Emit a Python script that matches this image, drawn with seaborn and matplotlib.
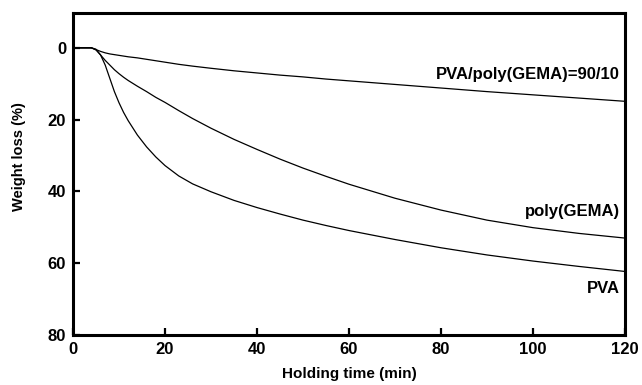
import numpy as np
import pandas as pd
import seaborn as sns
import matplotlib
matplotlib.use("Agg")
import matplotlib.pyplot as plt

# ---- data ----
time_min = [0, 4, 5, 6, 7, 8, 9, 10, 11, 12, 14, 16, 18, 20, 23, 26, 30, 35, 40, 45, 50, 55, 60, 70, 80, 90, 100, 110, 120]
pva = [0, 0, 0.4, 2.0, 4.8, 8.5, 12.2, 15.3, 18.0, 20.3, 24.3, 27.6, 30.4, 32.8, 35.7, 37.9, 40.1, 42.5, 44.5,
       46.3, 48.0, 49.5, 50.9, 53.4, 55.7, 57.7, 59.4, 60.9, 62.3]
poly_gema = [0, 0, 0.6, 2.0, 3.5, 4.8, 6.1, 7.2, 8.2, 9.1, 10.7, 12.2, 13.8, 15.2, 17.5, 19.7, 22.4, 25.5, 28.3,
             31.0, 33.5, 35.8, 38.0, 41.9, 45.2, 48.0, 50.1, 51.7, 53.0]
blend_90_10 = [0, 0, 0.5, 1.0, 1.4, 1.7, 1.9, 2.1, 2.3, 2.5, 2.8, 3.2, 3.6, 4.0, 4.6, 5.1, 5.7, 6.4, 7.0,
               7.6, 8.1, 8.7, 9.2, 10.2, 11.2, 12.2, 13.1, 14.0, 14.9]
series_names = ["PVA", "poly(GEMA)", "PVA/poly(GEMA)=90/10"]
x_ticks = [0, 20, 40, 60, 80, 100, 120]
y_ticks = [0, 20, 40, 60, 80]

n = len(time_min)
df = pd.DataFrame({
    "time": time_min * 3,
    "loss": pva + poly_gema + blend_90_10,
    "series": [series_names[0]] * n + [series_names[1]] * n + [series_names[2]] * n,
})

sns.set_style("ticks")
plt.rcParams["font.family"] = ["Liberation Sans", "DejaVu Sans"]
plt.rcParams["font.weight"] = "bold"
for key in ["text.color", "axes.labelcolor", "xtick.color", "ytick.color", "axes.edgecolor"]:
    plt.rcParams[key] = "black"

fig = plt.figure(figsize=(6.42, 3.85), dpi=100)
ax = fig.add_axes([73 / 642, 1 - 335 / 385, (625 - 73) / 642, (335 - 13) / 385])

sns.lineplot(data=df, x="time", y="loss", hue="series", units="series", estimator=None,
             palette=["black"] * 3, linewidth=0.9, legend=False, ax=ax)

ax.set_xlim(0, 120)
ax.set_ylim(80, -9.7)
ax.set_xticks(x_ticks)
ax.set_yticks(y_ticks)
ax.tick_params(direction="in", length=5, width=1.6, labelsize=12, pad=5)
for lab in ax.get_xticklabels() + ax.get_yticklabels():
    lab.set_fontweight("bold")
for sp in ax.spines.values():
    sp.set_linewidth(2.2)
    sp.set_visible(True)

ax.set_xlabel("Holding time (min)", fontsize=11, fontweight="bold", labelpad=7)
ax.set_ylabel("Weight loss (%)", fontsize=10.5, fontweight="bold")
ax.yaxis.set_label_coords(-0.085, 0.553)

ax.text(118.9, 7.5, series_names[2], ha="right", va="center", fontsize=12, fontweight="bold")
ax.text(118.9, 45.7, series_names[1], ha="right", va="center", fontsize=12, fontweight="bold")
ax.text(118.9, 67.1, series_names[0], ha="right", va="center", fontsize=12, fontweight="bold")

fig.savefig("out.png", dpi=100)
